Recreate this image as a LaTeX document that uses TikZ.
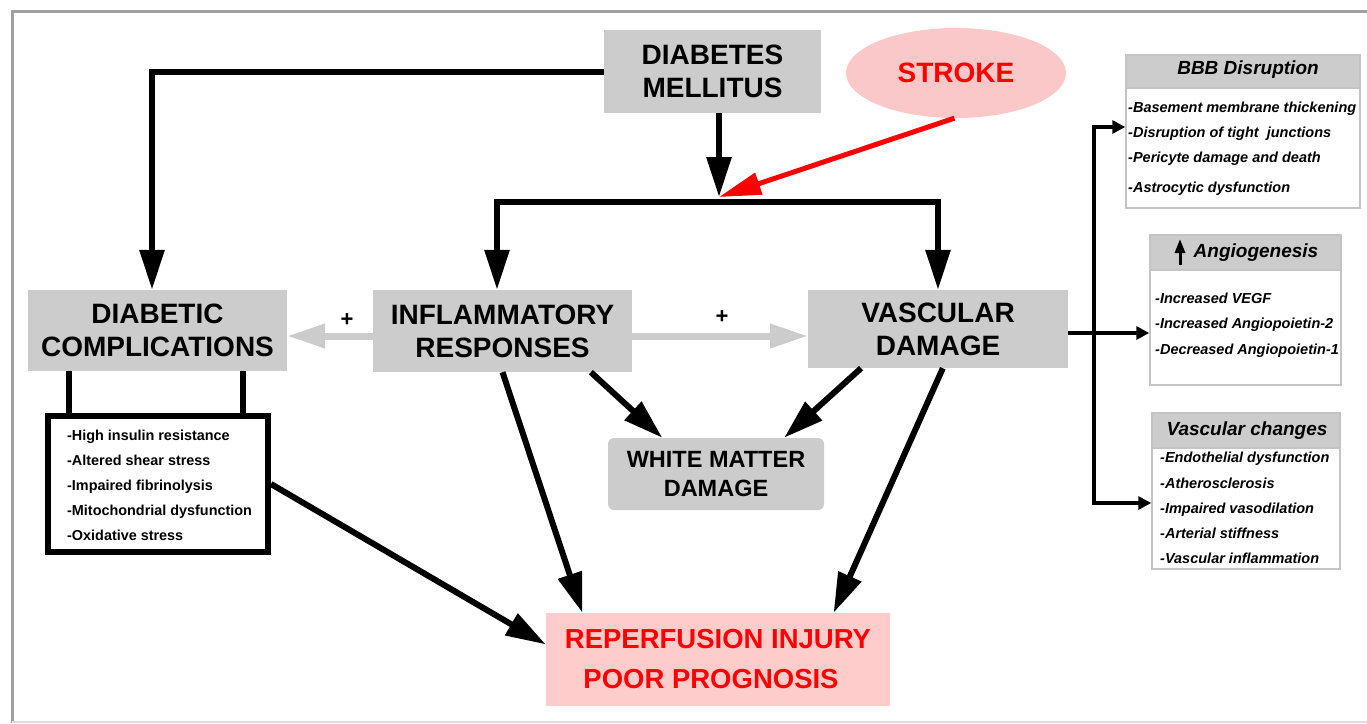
\documentclass[tikz,border=0pt]{standalone}
\usepackage{fontspec}
\setmainfont{Liberation Sans}
\usetikzlibrary{arrows.meta,shapes.geometric}
\definecolor{boxgray}{HTML}{CCCCCC}
\definecolor{pinkfill}{HTML}{FFCCCC}
\definecolor{ellfill}{HTML}{FAC8C8}
\definecolor{framegray}{HTML}{A0A0A0}
\definecolor{bottomgray}{HTML}{DDDDDD}
\definecolor{bordergray}{HTML}{C4C4C4}
\definecolor{strokered}{HTML}{FF0000}
\begin{document}
\begin{tikzpicture}[x=1pt,y=-1pt,
  gbox/.style={fill=boxgray, inner sep=0pt, align=center, font=\fontsize{28}{33}\selectfont\bfseries},
  pinkbox/.style={fill=pinkfill, inner sep=0pt, align=center, text=strokered, font=\fontsize{27.5}{40}\selectfont\bfseries},
  conn/.style={line width=6pt, -{Triangle[length=40pt,width=24pt]}},
  plainline/.style={line width=6pt},
  garrow/.style={line width=7pt, draw=boxgray, -{Triangle[length=38pt,width=23pt]}},
  sarrow/.style={line width=4pt, {Triangle[length=13pt,width=13pt]}-{Triangle[length=13pt,width=13pt]}},
  sarrowone/.style={line width=4pt, -{Triangle[length=13pt,width=13pt]}},
  redarrow/.style={line width=5pt, draw=strokered, -{Triangle[length=42pt,width=22pt]}},
  rbox/.style={draw=bordergray, line width=1.5pt, fill=white, inner sep=0pt},
  hdr/.style={draw=bordergray, line width=1.5pt, fill=boxgray, inner sep=0pt},
  hdrtxt/.style={inner sep=0pt, font=\fontsize{19}{22}\selectfont\bfseries\itshape},
  itemtxt/.style={inner sep=0pt, anchor=base west, font=\fontsize{14.5}{17}\selectfont\bfseries\itshape},
  listtxt/.style={inner sep=0pt, anchor=base west, font=\fontsize{14.4}{17}\selectfont\bfseries},
  plus/.style={inner sep=0pt, font=\fontsize{22}{22}\selectfont\bfseries}
]
\useasboundingbox (0,0) rectangle (1367,723);
% frame
\draw[framegray, line width=3pt] (1367,11) -- (12,11) -- (12,723);
\draw[bottomgray, line width=1.5pt] (12,722) -- (1367,722);

% main nodes
\node[gbox, minimum width=217pt, minimum height=83pt] (dm) at (712.5,71.5) {DIABETES\\MELLITUS};
\node[ellipse, fill=ellfill, minimum width=220pt, minimum height=90pt, inner sep=0pt, text=strokered,
      font=\fontsize{28}{33}\selectfont\bfseries] (stroke) at (956,73) {STROKE};
\node[gbox, minimum width=259pt, minimum height=81pt] (dc) at (157.5,330.5) {DIABETIC\\COMPLICATIONS};
\node[gbox, minimum width=259pt, minimum height=82pt] (infl) at (502.5,331) {INFLAMMATORY\\RESPONSES};
\node[gbox, minimum width=260pt, minimum height=78pt] (vd) at (938,329) {VASCULAR\\DAMAGE};
\node[gbox, rounded corners=6pt, minimum width=216pt, minimum height=72pt,
      font=\fontsize{23.5}{29}\selectfont\bfseries] (wmd) at (716,474) {WHITE MATTER\\DAMAGE};
\node[pinkbox, minimum width=344pt, minimum height=93pt] (rep) at (718,659.5) {REPERFUSION INJURY\\POOR PROGNOSIS\hspace*{14pt}};

% list box under diabetic complications
\node[draw, line width=6pt, minimum width=220pt, minimum height=136pt, inner sep=0pt] (lb) at (158,484) {};
\foreach \t [count=\i] in {-High insulin resistance,-Altered shear stress,-Impaired fibrinolysis,-Mitochondrial dysfunction,-Oxidative stress}
  \node[listtxt] (li\i) at (67,{440+(\i-1)*25.2}) {\t};
\coordinate (lba) at (69,0);
\coordinate (lbb) at (243,0);
\draw[plainline] (dc.south -| lba) -- (lb.north -| lba);
\draw[plainline] (dc.south -| lbb) -- (lb.north -| lbb);

% top connectors
\coordinate (dcx) at (152,0);
\draw[conn] (dm.west) -| (dc.north -| dcx);
\coordinate (j) at (719,197);
\coordinate (jl) at (497,202);
\coordinate (jr) at (938,202);
\draw[plainline] (jl) -- (jr);
\draw[conn] ([xshift=-3pt]jl) -- (jl) -- (infl.north -| jl);
\draw[conn] ([xshift=3pt]jr) -- (jr) -- (vd.north -| jr);
\draw[conn] (dm.south -| j) -- (j);
\draw[redarrow] (stroke.-92) -- (j);

% gray plus arrows
\coordinate (g) at (0,336);
\draw[garrow] (infl.west |- g) -- (dc.east |- g);
\draw[garrow] (infl.east |- g) -- (vd.west |- g);
\node[plus] (p1) at (347,320) {+};
\node[plus] (p2) at (722,317) {+};

% diagonal arrows
\draw[conn] (lb.east) -- (rep.175);
\draw[conn] (infl.south) -- (rep.161);
\draw[conn] (vd.-83) -- (rep.22.5);
\draw[conn] (infl.-25) -- (wmd.146.5);
\draw[conn] (vd.-153.7) -- (wmd.28.9);

% right-side boxes
\node[rbox, minimum width=234pt, minimum height=153pt] (bbb) at (1243,131.5) {};
\node[hdr, minimum width=234pt, minimum height=33pt, anchor=north] (bbbh) at (bbb.north) {};
\node[hdrtxt] (bbbt) at (1248,70) {BBB Disruption};
\foreach \t/\yy [count=\i] in {-Basement membrane thickening/112,-Disruption of tight\ \ junctions/137,-Pericyte damage and death/162,-Astrocytic dysfunction/192}
  \node[itemtxt] (bi\i) at (1128,\yy) {\t};

\node[rbox, minimum width=191pt, minimum height=150pt] (ang) at (1245.5,310) {};
\node[hdr, minimum width=191pt, minimum height=35pt, anchor=north] (angh) at (ang.north) {};
\node[hdrtxt] (angt) at (1256,253) {Angiogenesis};
\coordinate (upa) at (1180,265);
\coordinate (upb) at (1180,239);
\draw[line width=3pt, -{Triangle[length=14pt,width=10pt]}] (upa) -- (upb);
\foreach \t/\yy [count=\i] in {-Increased VEGF/303,-Increased Angiopoietin-2/328,-Decreased Angiopoietin-1/354}
  \node[itemtxt] (ai\i) at (1155,\yy) {\t};

\node[rbox, minimum width=188pt, minimum height=156pt] (vc) at (1246,491) {};
\node[hdr, minimum width=188pt, minimum height=35pt, anchor=north] (vch) at (vc.north) {};
\node[hdrtxt] (vct) at (1247,431) {Vascular changes};
\foreach \t/\yy [count=\i] in {-Endothelial dysfunction/462,-Atherosclerosis/488,-Impaired vasodilation/513,-Arterial stiffness/538,-Vascular inflammation/563}
  \node[itemtxt] (vi\i) at (1160,\yy) {\t};

% right connectors
\coordinate (rt) at (1094,127);
\coordinate (rb) at (1094,503);
\coordinate (rv) at (1094,333);
\draw[sarrow] (bbb.west |- rt) -| (rb) -- (vc.west |- rb);
\draw[sarrowone] (vd.east |- rv) -- (ang.west |- rv);
\end{tikzpicture}
\end{document}
